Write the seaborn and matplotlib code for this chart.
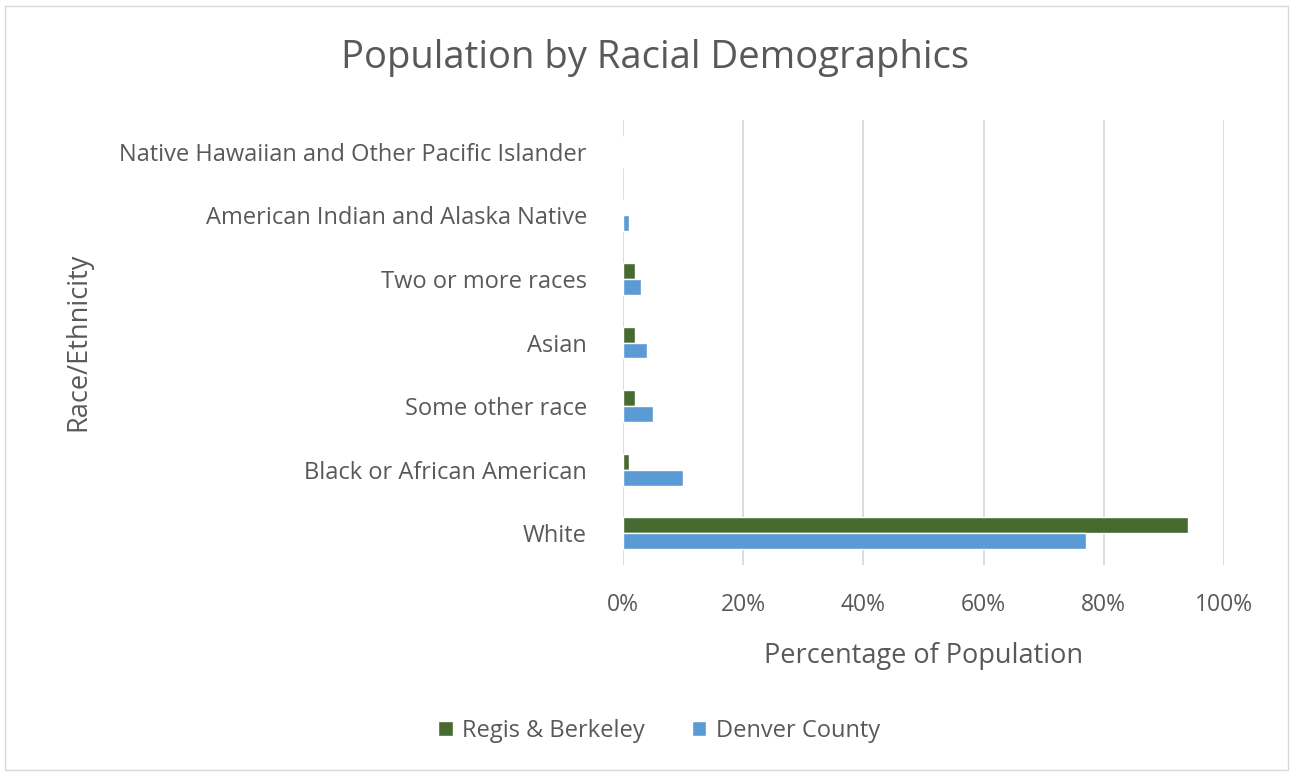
import matplotlib
matplotlib.use('agg')
import matplotlib.pyplot as plt
import pandas as pd
import seaborn as sns

# values (percent of population)
categories = ["Native Hawaiian and Other Pacific Islander",
              "American Indian and Alaska Native",
              "Two or more races",
              "Asian",
              "Some other race",
              "Black or African American",
              "White"]
regis_berkeley = [0, 0, 2, 2, 2, 1, 94]
denver_county = [0, 1, 3, 4, 5, 10, 77]
series_names = ["Regis & Berkeley", "Denver County"]
x_ticks = [0, 20, 40, 60, 80, 100]

df = pd.DataFrame({
    "category": categories * 2,
    "series": [series_names[0]] * len(categories) + [series_names[1]] * len(categories),
    "value": regis_berkeley + denver_county,
})

sns.set_style("white")
plt.rcParams['font.family'] = ['Open Sans', 'DejaVu Sans']
text_col = "#595959"

fig = plt.figure(figsize=(12.9, 7.72), dpi=100)
ax = fig.add_axes([623 / 1290, 1 - 565 / 772, 601 / 1290, 445 / 772])

sns.barplot(data=df, y="category", x="value", hue="series", orient="h",
            palette=["#466A2F", "#5B9BD5"], width=0.5, gap=0, ax=ax,
            order=categories, hue_order=series_names, saturation=1)

ax.set_xlim(0, 100)
ax.set_xticks(x_ticks)
ax.set_xticklabels([f"{v}%" for v in x_ticks], fontsize=16.5, color=text_col)
ax.tick_params(axis='x', pad=20, length=0)
ax.tick_params(axis='y', pad=26, length=0)
for lab in ax.get_yticklabels():
    lab.set_fontsize(17)
    lab.set_color(text_col)
ax.xaxis.grid(True, color="#d9d9d9", linewidth=1.3)
ax.set_axisbelow(True)
for s in ax.spines.values():
    s.set_visible(False)

ax.set_xlabel("Percentage of Population", fontsize=19.5, color=text_col, labelpad=18)
ax.set_ylabel("Race/Ethnicity", fontsize=19.5, color=text_col)
ax.yaxis.set_label_coords(92 / 1290, 1 - 342 / 772, transform=fig.transFigure)

fig.text(655 / 1290, 1 - 58 / 772, "Population by Racial Demographics",
         fontsize=27.5, color=text_col, ha="center", va="center")

ax.legend_.remove()
handles, labels = ax.get_legend_handles_labels()
fig.legend(handles, labels, loc="center", bbox_to_anchor=(659 / 1290, 1 - 731 / 772),
           ncol=2, frameon=False, fontsize=17, labelcolor=text_col,
           handlelength=0.6, handleheight=0.6, handletextpad=0.4, columnspacing=2.0)

fig.patches.append(plt.Rectangle((5 / 1290, 0.002), 1283 / 1290, 0.99, fill=False,
                                 edgecolor="#d9d9d9", linewidth=1, transform=fig.transFigure))

fig.savefig("out.png", dpi=100)
